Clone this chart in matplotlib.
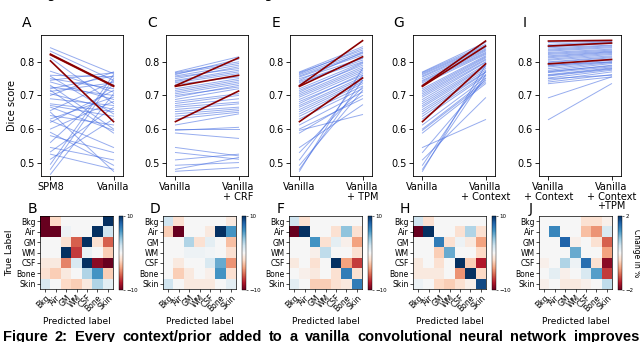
import numpy as np
import matplotlib
matplotlib.use('Agg')
import matplotlib.pyplot as plt

# dice scores per subject (blue = all subjects, red = highlighted ones)
vanilla = [0.770, 0.768, 0.765, 0.762, 0.758, 0.755, 0.750, 0.745, 0.742, 0.738,
           0.733, 0.720, 0.715, 0.710, 0.705, 0.700, 0.695, 0.688, 0.682, 0.676,
           0.670, 0.665, 0.658, 0.652, 0.645, 0.638, 0.630, 0.612, 0.600, 0.596,
           0.588, 0.545, 0.530, 0.508, 0.492, 0.480, 0.474]
spm8 = [0.700, 0.745, 0.842, 0.495, 0.720, 0.760, 0.480, 0.832, 0.655, 0.712,
        0.560, 0.750, 0.620, 0.772, 0.465, 0.725, 0.630, 0.740, 0.600, 0.812,
        0.690, 0.532, 0.705, 0.675, 0.757, 0.670, 0.510, 0.640, 0.730, 0.665,
        0.715, 0.625, 0.580, 0.545, 0.590, 0.525, 0.650]
crf = [0.815, 0.800, 0.795, 0.808, 0.790, 0.780, 0.785, 0.775, 0.770, 0.765,
       0.755, 0.750, 0.745, 0.740, 0.735, 0.725, 0.730, 0.720, 0.705, 0.700,
       0.690, 0.680, 0.675, 0.665, 0.660, 0.655, 0.650, 0.645, 0.600, 0.605,
       0.572, 0.520, 0.510, 0.525, 0.500, 0.515, 0.485]
tpm = [0.845, 0.835, 0.840, 0.830, 0.825, 0.820, 0.810, 0.828, 0.805, 0.800,
       0.812, 0.798, 0.790, 0.795, 0.785, 0.780, 0.775, 0.770, 0.760, 0.765,
       0.755, 0.750, 0.745, 0.740, 0.735, 0.728, 0.720, 0.710, 0.690, 0.643,
       0.700, 0.672, 0.725, 0.760, 0.715, 0.745, 0.780]
context = [0.858, 0.852, 0.848, 0.845, 0.842, 0.838, 0.835, 0.832, 0.828, 0.825,
           0.822, 0.818, 0.815, 0.812, 0.808, 0.805, 0.800, 0.798, 0.792, 0.788,
           0.785, 0.780, 0.775, 0.770, 0.768, 0.762, 0.758, 0.752, 0.745, 0.740,
           0.735, 0.628, 0.750, 0.693, 0.772, 0.760, 0.790]
ctx_tpm = [0.862, 0.860, 0.858, 0.855, 0.850, 0.848, 0.845, 0.842, 0.838, 0.835,
           0.832, 0.830, 0.828, 0.825, 0.822, 0.818, 0.815, 0.812, 0.808, 0.805,
           0.800, 0.798, 0.795, 0.790, 0.785, 0.782, 0.778, 0.775, 0.770, 0.762,
           0.755, 0.735, 0.760, 0.755, 0.788, 0.780, 0.800]

red_vanilla = [0.729, 0.727, 0.622]
red_spm8 = [0.823, 0.821, 0.803]
red_crf = [0.812, 0.760, 0.713]
red_tpm = [0.863, 0.815, 0.752]
red_context = [0.862, 0.847, 0.794]
red_ctx_tpm = [0.864, 0.856, 0.807]

# change in confusion matrix (%), rows = true, cols = predicted
tissues = ['Bkg', 'Air', 'GM', 'WM', 'CSF', 'Bone', 'Skin']
cm_B = [[-10, -2, 0, 0, 0, 0, 10],
        [-10, -10, 0.5, 0, 0, 10, 2],
        [0, 0, -1.5, -6, 10, -1.5, -6],
        [0, 0, 10, -7, 0.7, 0, -2.5],
        [-1, -1, -5, 1.5, 10, -9, -10],
        [-1.5, -2.5, -1, 0, 3, 6, -2.5],
        [1.5, 0, -2, -2.5, -1, 3, 1]]
cm_D = [[2, -1.5, 0, 0, 0, 0, -1],
        [-2.5, -10, 0, 0, -1, 10, 6],
        [0, 0, 3, -1.5, 1, 0, -3],
        [0, 0, 0.5, 0.5, 0.3, 0, -1.5],
        [0, -1, 0, 0, 1.5, 5, -4.5],
        [0, -2.5, -1, 0, -0.5, 6, -1.5],
        [2, 0, -1, -1, -1, 0, 1]]
cm_F = [[2, -1.5, 0, 0, 0, 0, 0],
        [-10, 10, 0, 0, -1.5, 4, -1.5],
        [0, 0, 6, -1.5, 1, -0.5, -4],
        [0, 0, -0.5, 2.5, 0, 0, -1.5],
        [-1, 0, -1.5, 0, 10, -4, -7],
        [0, -0.5, -1, 0, -1.5, 7, -1.5],
        [1, 0, -2.5, -2.5, -1.5, -1, 7]]
cm_H = [[2, -1.5, 0, 0, 0, 0, 0],
        [-10, 10, 0, 0, -1.5, 3, -1.5],
        [0, 0, 7, -1.5, 0.5, -1, -4],
        [0, 0, -2.5, 5, 0, 0, -2],
        [-1, 0, -1.5, 0, 10, -2.5, -8],
        [-1, -1, -1, 0, -4.5, 10, -2],
        [0.5, 0, -2, -2.5, -1.5, -0.5, 9]]
cm_J = [[0, 0, 0, 0, -0.3, -0.3, -0.1],
        [0, 1.3, 0, 0, -0.6, -0.9, 0.3],
        [0, 0, 1.6, -0.1, 0, -0.3, -1.2],
        [0, 0, 0, 1.0, 0, 0, -0.8],
        [-0.1, 0, 0.6, 0.1, 1.5, -0.3, -1.8],
        [0, 0.2, -0.1, 0, 0.3, 1.1, -1.4],
        [-0.1, 0, -0.2, -0.2, -0.1, 0, 0.5]]

caption_words = ['Figure', '2:', 'Every', 'context/prior', 'added', 'to', 'a',
                 'vanilla', 'convolutional', 'neural', 'network', 'improves']

W, H = 640., 342.
fig = plt.figure(figsize=(6.4, 3.42), dpi=100)


def px_axes(x0, y0, x1, y1):
    # axes from pixel box (top-left origin)
    return fig.add_axes([x0 / W, 1 - y1 / H, (x1 - x0) / W, (y1 - y0) / H])


def pair_plot(x0, left, right, rleft, rright, labels, letter, ylabel=None):
    ax = px_axes(x0, 35, x0 + 82, 176)
    for a, b in zip(left, right):
        ax.plot([0, 1], [a, b], color='royalblue', alpha=0.55, lw=0.7)
    for a, b in zip(rleft, rright):
        ax.plot([0, 1], [a, b], color='darkred', lw=1.2)
    ax.set_xlim(-0.15, 1.15)
    ax.set_ylim(0.46, 0.88)
    ax.set_xticks([0, 1])
    ax.set_xticklabels(labels, fontsize=7, linespacing=0.95)
    ax.set_yticks([0.5, 0.6, 0.7, 0.8])
    ax.tick_params(labelsize=7, length=3, width=0.6, pad=1.5)
    for s in ax.spines.values():
        s.set_linewidth(0.6)
    if ylabel:
        ax.set_ylabel(ylabel, fontsize=7, labelpad=2)
    fig.text((x0 - 14) / W, 1 - 23 / H, letter, fontsize=10, ha='center', va='center')


def conf_plot(x0, mat, vmax, letter, ylabel=False, cblabel=None):
    ax = px_axes(x0, 216, x0 + 73, 289)
    im = ax.imshow(np.array(mat), cmap='RdBu', vmin=-vmax, vmax=vmax,
                   aspect='auto', interpolation='nearest')
    ax.set_xticks(range(7))
    ax.set_yticks(range(7))
    ax.set_xticklabels(tissues, rotation=45, ha='right', rotation_mode='anchor')
    ax.set_yticklabels(tissues)
    ax.tick_params(labelsize=5.5, length=2, width=0.5, pad=1)
    for s in ax.spines.values():
        s.set_linewidth(0.5)
    ax.set_xlabel('Predicted label', fontsize=6.5, labelpad=3)
    if ylabel:
        ax.set_ylabel('True Label', fontsize=6.5, labelpad=2)
    cax = px_axes(x0 + 79, 216, x0 + 83, 290)
    cb = fig.colorbar(im, cax=cax, ticks=[-vmax, vmax])
    cb.ax.tick_params(labelsize=4, length=1.5, width=0.4, pad=1)
    cb.outline.set_linewidth(0.3)
    if cblabel:
        cb.set_label(cblabel, fontsize=5.5, rotation=270, labelpad=5)
    fig.text((x0 - 8) / W, 1 - 209 / H, letter, fontsize=10, ha='center', va='center')


pair_plot(41, spm8, vanilla, red_spm8, red_vanilla, ['SPM8', 'Vanilla'], 'A', 'Dice score')
pair_plot(166, vanilla, crf, red_vanilla, red_crf, ['Vanilla', 'Vanilla\n+ CRF'], 'C')
pair_plot(290, vanilla, tpm, red_vanilla, red_tpm, ['Vanilla', 'Vanilla\n+ TPM'], 'E')
pair_plot(413, vanilla, context, red_vanilla, red_context,
          ['Vanilla', 'Vanilla\n+ Context'], 'G')
pair_plot(539, context, ctx_tpm, red_context, red_ctx_tpm,
          ['Vanilla\n+ Context', 'Vanilla\n+ Context\n+TPM'], 'I')

conf_plot(40, cm_B, 10, 'B', ylabel=True)
conf_plot(163, cm_D, 10, 'D')
conf_plot(289, cm_F, 10, 'F')
conf_plot(413, cm_H, 10, 'H')
conf_plot(539, cm_J, 2, 'J', cblabel='Change in %')

# cropped page text above the figure
fig.text(152 / W, 1 + 2 / H, 'training in both cases', fontsize=10, ha='right', va='baseline')
fig.text(248 / W, 1 + 2 / H, '(Figure 2).', fontsize=10, ha='left', va='baseline')

# justified bold caption line, cut by the bottom edge
r = fig.canvas.get_renderer()
texts = [fig.text(0, 1 - 330 / H, w, fontsize=10.5, fontweight='bold',
                  family='Liberation Sans', ha='left', va='top') for w in caption_words]
widths = [t.get_window_extent(r).width for t in texts]
gap = (639 - 3 - sum(widths)) / (len(texts) - 1)
xp = 3
for t, wd in zip(texts, widths):
    t.set_x(xp / W)
    xp += wd + gap

fig.savefig('out.png', dpi=100)
